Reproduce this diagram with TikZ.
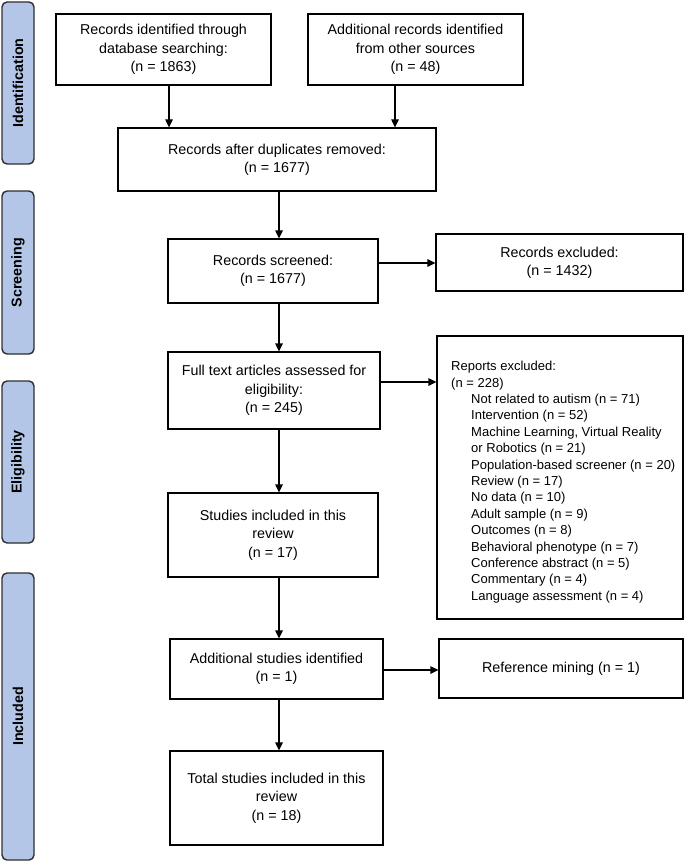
\documentclass[tikz,border=0pt]{standalone}
\usepackage{fontspec}
\setmainfont{Liberation Sans}
\usetikzlibrary{arrows.meta}
\definecolor{barfill}{HTML}{B4C6E7}
\definecolor{barline}{HTML}{2E2E2E}
\newcommand{\mainsz}{\fontsize{14.3}{18.3}\selectfont}
\newcommand{\listsz}{\fontsize{13}{16.4}\selectfont}
\tikzset{
  box/.style={draw=black, line width=1.2pt, fill=white, inner sep=2pt, align=center, font=\mainsz},
  arr/.style={-{Triangle[length=8pt,width=7.5pt]}, line width=1.2pt},
  phase/.style={draw=barline, fill=barfill, rounded corners=5pt, line width=1.4pt, rotate=90,
    font=\bfseries\mainsz, inner sep=0pt, minimum height=32pt},
}
\begin{document}
\begin{tikzpicture}[x=1pt,y=-1pt]
\useasboundingbox (0,0) rectangle (685,861);

% phase bars
\node[phase, minimum width=162pt] (pid) at (18,83) {Identification};
\node[phase, minimum width=163pt] (pscr) at (18,272.5) {Screening};
\node[phase, minimum width=162pt] (pel) at (18,462) {Eligibility};
\node[phase, minimum width=287pt] (pinc) at (18,716.5) {Included};

% boxes
\node[box, minimum width=215pt, minimum height=71pt] (b1) at (163.5,49.5)
  {Records identified through\\database searching:\\(n = 1863)};
\node[box, minimum width=215pt, minimum height=71pt] (b2) at (415.5,49.5)
  {Additional records identified\\from other sources\\(n = 48)};
\node[box, minimum width=318pt, minimum height=63pt] (b3) at (277,159.5)
  {Records after duplicates removed:\\(n = 1677)};
\node[box, minimum width=210pt, minimum height=64pt] (b4) at (273,271)
  {Records screened:\\(n = 1677)};
\node[box, minimum width=247pt, minimum height=57pt] (ex1) at (559.5,262.5)
  {Records excluded:\\(n = 1432)};
\node[box, minimum width=212pt, minimum height=77pt] (b5) at (274,390.5)
  {Full text articles assessed for\\eligibility:\\(n = 245)};
\node[box, minimum width=246pt, minimum height=283pt] (ex2) at (560,477.5) {};
\node[anchor=north west, align=left, inner sep=0pt, font=\listsz] (ex2t) at (451,361)
  {Reports excluded:\\
   (n = 228)\\
   \hspace*{20pt}Not related to autism (n = 71)\\
   \hspace*{20pt}Intervention (n = 52)\\
   \hspace*{20pt}Machine Learning, Virtual Reality\\
   \hspace*{20pt}or Robotics (n = 21)\\
   \hspace*{20pt}Population-based screener (n = 20)\\
   \hspace*{20pt}Review (n = 17)\\
   \hspace*{20pt}No data (n = 10)\\
   \hspace*{20pt}Adult sample (n = 9)\\
   \hspace*{20pt}Outcomes (n = 8)\\
   \hspace*{20pt}Behavioral phenotype (n = 7)\\
   \hspace*{20pt}Conference abstract (n = 5)\\
   \hspace*{20pt}Commentary (n = 4)\\
   \hspace*{20pt}Language assessment (n = 4)};
\node[box, minimum width=210pt, minimum height=84pt] (b6) at (273,535)
  {Studies included in this\\review\\(n = 17)};
\node[box, minimum width=213pt, minimum height=60pt] (b7) at (276.5,669)
  {Additional studies identified\\(n = 1)};
\node[box, minimum width=244pt, minimum height=59pt] (ex3) at (561,668.5)
  {Reference mining (n = 1)};
\node[box, minimum width=213pt, minimum height=94pt] (b8) at (276.5,798)
  {Total studies included in this\\review\\(n = 18)};

% connector guide coordinates
\coordinate (c1) at (169,0);
\coordinate (c2) at (395,0);
\coordinate (cm) at (279,0);
\coordinate (r1) at (0,263);
\coordinate (r2) at (0,382);
\coordinate (r3) at (0,670);

% connectors
\draw[arr] (b1.south -| c1) -- (b3.north -| c1);
\draw[arr] (b2.south -| c2) -- (b3.north -| c2);
\draw[arr] (b3.south -| cm) -- (b4.north -| cm);
\draw[arr] (b4.east |- r1) -- (ex1.west |- r1);
\draw[arr] (b4.south -| cm) -- (b5.north -| cm);
\draw[arr] (b5.east |- r2) -- (ex2.west |- r2);
\draw[arr] (b5.south -| cm) -- (b6.north -| cm);
\draw[arr] (b6.south -| cm) -- (b7.north -| cm);
\draw[arr] (b7.east |- r3) -- (ex3.west |- r3);
\draw[arr] (b7.south -| cm) -- (b8.north -| cm);
\end{tikzpicture}
\end{document}
